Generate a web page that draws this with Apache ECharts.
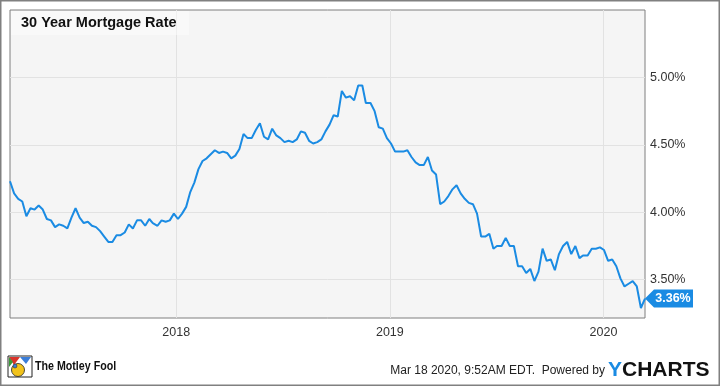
<!DOCTYPE html>
<html>
<head>
<meta charset="utf-8">
<script src="https://cdn.jsdelivr.net/npm/echarts@6/dist/echarts.min.js"></script>
<style>
  html, body { margin: 0; padding: 0; background: #fff; }
  #chart { width: 720px; height: 386px; }
</style>
</head>
<body>
<div id="chart"></div>
<script>
// ---- Data (Freddie Mac 30-year fixed, weekly) ----
const weeks = [
  "2017-03-23","2017-03-30","2017-04-06","2017-04-13","2017-04-20","2017-04-27","2017-05-04","2017-05-11","2017-05-18","2017-05-25",
  "2017-06-01","2017-06-08","2017-06-15","2017-06-22","2017-06-29","2017-07-06","2017-07-13","2017-07-20","2017-07-27","2017-08-03",
  "2017-08-10","2017-08-17","2017-08-24","2017-08-31","2017-09-07","2017-09-14","2017-09-21","2017-09-28","2017-10-05","2017-10-12",
  "2017-10-19","2017-10-26","2017-11-02","2017-11-09","2017-11-16","2017-11-22","2017-11-30","2017-12-07","2017-12-14","2017-12-21",
  "2017-12-28",
  "2018-01-04","2018-01-11","2018-01-18","2018-01-25","2018-02-01","2018-02-08","2018-02-15","2018-02-22","2018-03-01","2018-03-08",
  "2018-03-15","2018-03-22","2018-03-29","2018-04-05","2018-04-12","2018-04-19","2018-04-26","2018-05-03","2018-05-10","2018-05-17",
  "2018-05-24","2018-05-31","2018-06-07","2018-06-14","2018-06-21","2018-06-28","2018-07-05","2018-07-12","2018-07-19","2018-07-26",
  "2018-08-02","2018-08-09","2018-08-16","2018-08-23","2018-08-30","2018-09-06","2018-09-13","2018-09-20","2018-09-27","2018-10-04",
  "2018-10-11","2018-10-18","2018-10-25","2018-11-01","2018-11-08","2018-11-15","2018-11-21","2018-11-29","2018-12-06","2018-12-13",
  "2018-12-20","2018-12-27",
  "2019-01-03","2019-01-10","2019-01-17","2019-01-24","2019-01-31","2019-02-07","2019-02-14","2019-02-21","2019-02-28","2019-03-07",
  "2019-03-14","2019-03-21","2019-03-28","2019-04-04","2019-04-11","2019-04-18","2019-04-25","2019-05-02","2019-05-09","2019-05-16",
  "2019-05-23","2019-05-30","2019-06-06","2019-06-13","2019-06-20","2019-06-27","2019-07-03","2019-07-11","2019-07-18","2019-07-25",
  "2019-08-01","2019-08-08","2019-08-15","2019-08-22","2019-08-29","2019-09-05","2019-09-12","2019-09-19","2019-09-26","2019-10-03",
  "2019-10-10","2019-10-17","2019-10-24","2019-10-31","2019-11-07","2019-11-14","2019-11-21","2019-11-27","2019-12-05","2019-12-12",
  "2019-12-19","2019-12-26",
  "2020-01-02","2020-01-09","2020-01-16","2020-01-23","2020-01-30","2020-02-06","2020-02-13","2020-02-20","2020-02-27","2020-03-05",
  "2020-03-12"
];
const rates = [
  4.23,4.14,4.10,4.08,3.97,4.03,4.02,4.05,4.02,3.95,
  3.94,3.89,3.91,3.90,3.88,3.96,4.03,3.96,3.92,3.93,
  3.90,3.89,3.86,3.82,3.78,3.78,3.83,3.83,3.85,3.91,
  3.88,3.94,3.94,3.90,3.95,3.92,3.90,3.94,3.93,3.94,
  3.99,
  3.95,3.99,4.04,4.15,4.22,4.32,4.38,4.40,4.43,4.46,
  4.44,4.45,4.44,4.40,4.42,4.47,4.58,4.55,4.55,4.61,
  4.66,4.56,4.54,4.62,4.57,4.55,4.52,4.53,4.52,4.54,
  4.60,4.59,4.53,4.51,4.52,4.54,4.60,4.65,4.72,4.71,
  4.90,4.85,4.86,4.83,4.94,4.94,4.81,4.81,4.75,4.63,
  4.62,4.55,
  4.51,4.45,4.45,4.45,4.46,4.41,4.37,4.35,4.35,4.41,
  4.31,4.28,4.06,4.08,4.12,4.17,4.20,4.14,4.10,4.07,
  4.06,3.99,3.82,3.82,3.84,3.73,3.75,3.75,3.81,3.75,
  3.75,3.60,3.60,3.55,3.58,3.49,3.56,3.73,3.64,3.65,
  3.57,3.69,3.75,3.78,3.69,3.75,3.66,3.68,3.68,3.73,
  3.73,3.74,
  3.72,3.64,3.65,3.60,3.51,3.45,3.47,3.49,3.45,3.29,
  3.36
];
const yTicks = [3.5, 4.0, 4.5, 5.0];
const xTickDates = ["2018-01-01", "2019-01-01", "2020-01-01"];
const titleText = "30 Year Mortgage Rate";
const footerText = "Mar 18 2020, 9:52AM EDT.  Powered by";

// ---- Build ----
const ts = s => { const p = s.split('-').map(Number); return Date.UTC(p[0], p[1] - 1, p[2]); };
const seriesData = weeks.map((d, i) => [ts(d), rates[i]]);
const lastPt = seriesData[seriesData.length - 1];
const FONT = 'Arial, "Liberation Sans", sans-serif';
const BLUE = '#1a8be3';

const chart = echarts.init(document.getElementById('chart'), null, { renderer: 'canvas' });
chart.setOption({
  animation: false,
  backgroundColor: '#ffffff',
  grid: {
    left: 10, top: 10, right: 75, bottom: 68,
    show: true, backgroundColor: '#f5f5f5', borderColor: '#7f7f7f', borderWidth: 1
  },
  xAxis: {
    type: 'value',
    min: ts(weeks[0]),
    max: ts(weeks[weeks.length - 1]),
    axisLine: { show: false },
    axisTick: { show: false, customValues: xTickDates.map(ts) },
    axisLabel: {
      customValues: xTickDates.map(ts),
      formatter: v => String(new Date(v).getUTCFullYear()),
      color: '#333', fontSize: 12.5, fontFamily: FONT, margin: 8
    },
    splitLine: { show: true, lineStyle: { color: '#e2e2e2', width: 1 } }
  },
  yAxis: {
    type: 'value',
    position: 'right',
    min: 3.216,
    max: 5.5,
    axisLine: { show: false },
    axisTick: { show: false, customValues: yTicks },
    axisLabel: {
      customValues: yTicks,
      formatter: v => v.toFixed(2) + '%',
      color: '#333', fontSize: 12.5, fontFamily: FONT, margin: 5
    },
    splitLine: { show: true, lineStyle: { color: '#e2e2e2', width: 1 } }
  },
  series: [{
    type: 'line',
    data: seriesData,
    showSymbol: false,
    symbol: 'none',
    lineStyle: { color: BLUE, width: 2 },
    itemStyle: { color: BLUE },
    markPoint: {
      symbol: 'path://M0,9 L9,0 L48,0 L48,18 L9,18 Z',
      symbolSize: [48, 18],
      symbolOffset: [24, 0],
      itemStyle: { color: BLUE },
      label: {
        show: true, position: 'inside', offset: [4, 0],
        color: '#fff', fontWeight: 'bold', fontSize: 12.5, fontFamily: FONT,
        formatter: p => p.value.toFixed(2) + '%'
      },
      data: [{ coord: lastPt, value: lastPt[1] }]
    }
  }],
  graphic: [
    { type: 'rect', shape: { x: 0.75, y: 0.75, width: 718.5, height: 384.5 },
      style: { fill: 'none', stroke: '#808080', lineWidth: 1.5 }, z: 100 },
    { type: 'rect', shape: { x: 11, y: 11, width: 178, height: 24 },
      style: { fill: 'rgba(255,255,255,0.45)' }, z: 50 },
    { type: 'text', x: 21, y: 22.5,
      style: { text: titleText, fill: '#111', font: 'bold 14.5px ' + FONT, textVerticalAlign: 'middle' }, z: 51 },
    { type: 'group', z: 60, children: [
      { type: 'rect', shape: { x: 8, y: 356, width: 24, height: 21 }, style: { fill: '#fff', stroke: '#222', lineWidth: 1 } },
      { type: 'polygon', shape: { points: [[9,357],[20,357],[14,365]] }, style: { fill: '#d9342b' } },
      { type: 'polygon', shape: { points: [[20,357],[31,357],[26,364]] }, style: { fill: '#3b7dd8' } },
      { type: 'polygon', shape: { points: [[9,357],[9,367],[13,362]] }, style: { fill: '#3a9a3a' } },
      { type: 'circle', shape: { cx: 18, cy: 370, r: 6.5 }, style: { fill: '#f2c31b', stroke: '#222', lineWidth: 0.8 } },
      { type: 'circle', shape: { cx: 15, cy: 366, r: 2 }, style: { fill: '#3b7dd8', stroke: '#222', lineWidth: 0.5 } }
    ]},
    { type: 'text', x: 35, y: 366.5, z: 60, scaleX: 0.82,
      style: { text: 'The Motley Fool', fill: '#111', font: 'bold 13px ' + FONT, textVerticalAlign: 'middle' } },
    { type: 'text', x: 605, y: 371, z: 60,
      style: { text: footerText, fill: '#222', font: '12px ' + FONT, textAlign: 'right', textVerticalAlign: 'middle' } },
    { type: 'text', x: 608, y: 370, z: 60,
      style: {
        text: '{y|Y}{c|CHARTS}',
        textVerticalAlign: 'middle',
        rich: {
          y: { fill: '#1a8be3', font: 'bold 21px ' + FONT },
          c: { fill: '#111', font: 'bold 21px ' + FONT }
        }
      } }
  ]
});
</script>
</body>
</html>
